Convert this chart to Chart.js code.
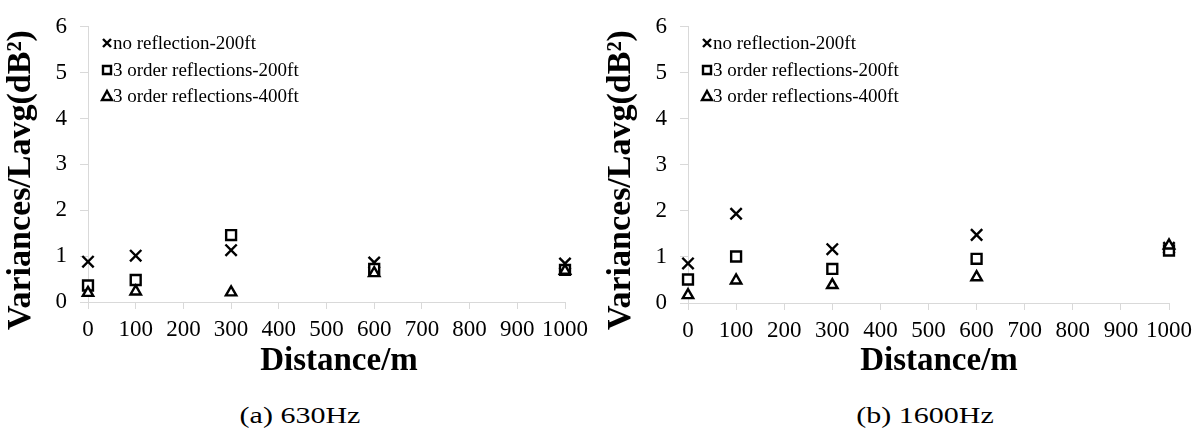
<!DOCTYPE html>
<html>
<head>
<meta charset="utf-8">
<title>Variances/Lavg vs distance</title>
<script src="https://cdn.jsdelivr.net/npm/chart.js@4.4.0/dist/chart.umd.min.js"></script>
<style>
    body { margin: 0; background: #fff; width: 1203px; height: 444px; position: relative; overflow: hidden;
           font-family: 'Liberation Serif', 'Times New Roman', serif; }
    .panel { position: absolute; top: 0; height: 380px; }
    .caption { position: absolute; top: 401px; font-size: 24px; line-height: 28px; color: #000;
               white-space: nowrap; transform: translateX(-50%) scaleX(1.25); }
</style>
</head>
<body>
<div class="panel" style="left:0;width:600px"><canvas id="chartA" width="600" height="380"></canvas></div>
<div class="panel" style="left:600px;width:603px"><canvas id="chartB" width="603" height="380"></canvas></div>
<div class="caption" style="left:300px">(a) 630Hz</div>
<div class="caption" style="left:925px">(b) 1600Hz</div>

<script>
// Data
const distances = [0, 100, 300, 600, 1000];
const seriesLabels = ['no reflection-200ft', '3 order reflections-200ft', '3 order reflections-400ft'];
const pointStyles = ['crossRot', 'rect', 'triangle'];

const noRefl630 = [0.88, 1.01, 1.13, 0.86, 0.84];
const refl200ft630 = [0.36, 0.48, 1.46, 0.72, 0.70];
const refl400ft630 = [0.20, 0.23, 0.21, 0.63, 0.68];

const noRefl1600 = [0.86, 1.94, 1.17, 1.48, 1.20];
const refl200ft1600 = [0.51, 1.01, 0.74, 0.96, 1.14];
const refl400ft1600 = [0.17, 0.49, 0.39, 0.56, 1.25];

const xMin = 0, xMax = 1000, xStep = 100;
const yMin = 0, yMax = 6, yStep = 1;

const AXIS_GRAY = '#d9d9d9';
const SERIF = "'Liberation Serif', 'Times New Roman', serif";

function toPoints(values) {
    return distances.map((d, i) => ({ x: d, y: values[i] }));
}

function makeDatasets(series) {
    const radii = [8, 7, 6];
    return series.map((vals, i) => ({
        label: seriesLabels[i],
        data: toPoints(vals),
        pointStyle: pointStyles[i],
        pointRadius: radii[i],
        pointHoverRadius: radii[i],
        pointBorderWidth: 2.4,
        pointBorderColor: '#000',
        pointBackgroundColor: '#fff',
        borderColor: '#000',
        backgroundColor: '#fff',
        showLine: false,
        clip: false,
        order: 3 - i
    }));
}

// legend drawn inside the plot area, top-left, like the original
function drawMarker(ctx, style, x, y) {
    ctx.save();
    ctx.strokeStyle = '#000';
    ctx.fillStyle = '#fff';
    ctx.lineWidth = 2.4;
    ctx.beginPath();
    if (style === 'crossRot') {
        ctx.moveTo(x - 4, y - 4); ctx.lineTo(x + 4, y + 4);
        ctx.moveTo(x + 4, y - 4); ctx.lineTo(x - 4, y + 4);
        ctx.stroke();
    } else if (style === 'rect') {
        ctx.rect(x - 4, y - 4, 8, 8);
        ctx.fill(); ctx.stroke();
    } else {
        ctx.moveTo(x, y - 5); ctx.lineTo(x + 5, y + 4); ctx.lineTo(x - 5, y + 4);
        ctx.closePath();
        ctx.fill(); ctx.stroke();
    }
    ctx.restore();
}

const innerLegend = {
    id: 'innerLegend',
    afterDatasetsDraw(chart) {
        const ctx = chart.ctx;
        const left = chart.chartArea.left;
        const rows = [43, 70, 96];
        ctx.save();
        ctx.font = '19px ' + SERIF;
        ctx.fillStyle = '#000';
        ctx.textBaseline = 'middle';
        chart.data.datasets.forEach((ds, i) => {
            drawMarker(ctx, ds.pointStyle, left + 19, rows[i]);
            ctx.fillText(ds.label, left + 25, rows[i] + 1);
        });
        ctx.restore();
    }
};

// bold axis titles placed like the original figure
const axisTitles = {
    id: 'axisTitles',
    afterDraw(chart) {
        const ctx = chart.ctx;
        const opts = chart.options.plugins.axisTitles;
        ctx.save();
        ctx.font = 'bold 33px ' + SERIF;
        ctx.fillStyle = '#000';
        ctx.textAlign = 'center';
        ctx.textBaseline = 'alphabetic';
        ctx.fillText(opts.x, opts.xTitleX, opts.xTitleY);
        ctx.font = 'bold 34px ' + SERIF;
        ctx.translate(opts.yTitleX, opts.yTitleY);
        ctx.rotate(-Math.PI / 2);
        ctx.textBaseline = 'middle';
        ctx.fillText(opts.y, 0, 0);
        ctx.restore();
    }
};

function makeChart(id, series, bottom, plotRight) {
    const canvas = document.getElementById(id);
    return new Chart(canvas, {
        type: 'scatter',
        data: { datasets: makeDatasets(series) },
        options: {
            responsive: false,
            animation: false,
            events: [],
            layout: { padding: { top: 23, left: 0, right: canvas.width - plotRight, bottom: 0 } },
            plugins: {
                legend: { display: false },
                tooltip: { enabled: false },
                axisTitles: {
                    x: 'Distance/m', y: 'Variances/Lavg(dB²)',
                    xTitleX: 339, xTitleY: 370,
                    yTitleX: 21, yTitleY: 180
                }
            },
            scales: {
                x: {
                    type: 'linear',
                    min: xMin, max: xMax,
                    afterFit: s => { s.height = 380 - bottom; },
                    ticks: { stepSize: xStep, color: '#000', padding: 7,
                             maxRotation: 0, minRotation: 0, autoSkip: false,
                             callback: v => String(v),
                             font: { family: SERIF, size: 23 } },
                    grid: { drawOnChartArea: false, drawTicks: true, tickLength: 7, color: AXIS_GRAY },
                    border: { display: true, color: AXIS_GRAY }
                },
                y: {
                    min: yMin, max: yMax,
                    afterFit: s => { s.width = 88; },
                    ticks: { stepSize: yStep, color: '#000', padding: 13,
                             font: { family: SERIF, size: 23 } },
                    grid: { drawOnChartArea: false, drawTicks: true, tickLength: 8, color: AXIS_GRAY },
                    border: { display: true, color: AXIS_GRAY }
                }
            }
        },
        plugins: [innerLegend, axisTitles]
    });
}

window.addEventListener('DOMContentLoaded', () => {
    makeChart('chartA', [noRefl630, refl200ft630, refl400ft630], 302, 565);
    makeChart('chartB', [noRefl1600, refl200ft1600, refl400ft1600], 303, 569);
});
</script>
</body>
</html>
